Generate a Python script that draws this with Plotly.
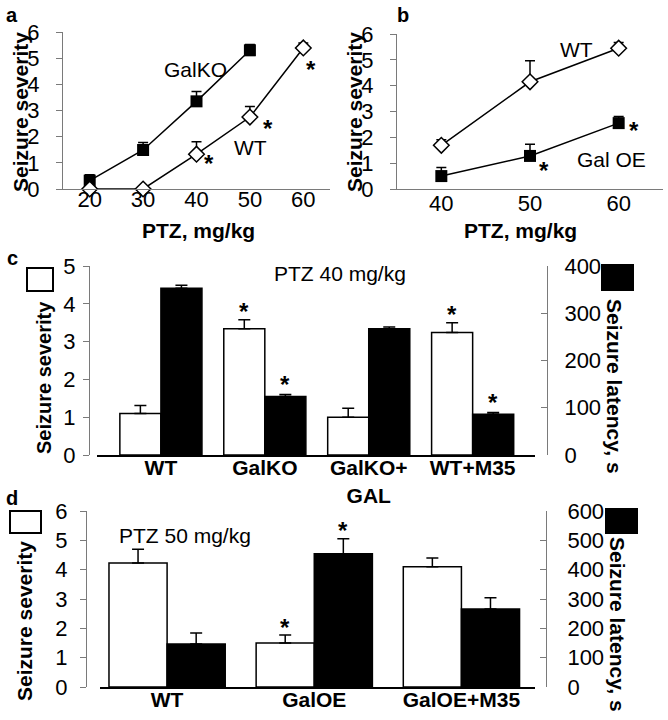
import plotly.graph_objects as go

W, H = 668, 720
FONT = "Liberation Sans"
AX = "#7a7a7a"

# ---------------- data ----------------
# Panel a
a_dose = [20, 30, 40, 50, 60]
a_galko_dose = [20, 30, 40, 50]
a_galko = [0.32, 1.49, 3.35, 5.30]
a_galko_err = [0.22, 0.29, 0.38, 0.22]
a_wt = [0.0, 0.0, 1.33, 2.75, 5.39]
a_wt_err = [0.0, 0.0, 0.48, 0.40, 0.19]
a_wt_sig = [0, 0, 1, 1, 1]

# Panel b
b_dose = [40, 50, 60]
b_wt = [1.69, 4.15, 5.45]
b_wt_err = [0.22, 0.81, 0.22]
b_galoe = [0.50, 1.28, 2.55]
b_galoe_err = [0.33, 0.45, 0.26]
b_galoe_sig = [0, 1, 1]

# Panel c (PTZ 40 mg/kg)
c_groups = ["WT", "GalKO", "GalKO+<br>GAL", "WT+M35"]
c_sev = [1.10, 3.34, 1.00, 3.24]
c_sev_err = [0.21, 0.24, 0.24, 0.26]
c_sev_sig = [0, 1, 0, 1]
c_lat = [353, 124, 267, 86]
c_lat_err = [6, 4, 4, 4]
c_lat_sig = [0, 1, 0, 1]

# Panel d (PTZ 50 mg/kg)
d_groups = ["WT", "GalOE", "GalOE+M35"]
d_sev = [4.23, 1.50, 4.10]
d_sev_err = [0.47, 0.27, 0.30]
d_sev_sig = [0, 1, 0]
d_lat = [147, 454, 266]
d_lat_err = [37, 51, 38]
d_lat_sig = [0, 1, 0]

BW = 0.395  # bar width in category units


def fx(px):
    return px / W


def fy(py):
    return 1 - py / H


def up_err(err, color="black", width=5):
    return dict(type="data", symmetric=False, array=err, arrayminus=[0] * len(err),
                color=color, thickness=1.5, width=width)


fig = go.Figure()

# ---- panel a ----
fig.add_trace(go.Scatter(x=a_galko_dose, y=a_galko, xaxis="x", yaxis="y", mode="lines+markers",
                         line=dict(color="black", width=1.5),
                         marker=dict(symbol="square", size=12, color="black"),
                         error_y=up_err(a_galko_err), cliponaxis=False, showlegend=False))
fig.add_trace(go.Scatter(x=a_dose, y=a_wt, xaxis="x", yaxis="y", mode="lines+markers",
                         line=dict(color="black", width=1.5),
                         marker=dict(symbol="diamond", size=12, color="white",
                                     line=dict(color="black", width=1.5)),
                         error_y=up_err(a_wt_err), cliponaxis=False, showlegend=False))

# ---- panel b ----
fig.add_trace(go.Scatter(x=b_dose, y=b_wt, xaxis="x2", yaxis="y2", mode="lines+markers",
                         line=dict(color="black", width=1.5),
                         marker=dict(symbol="diamond", size=12, color="white",
                                     line=dict(color="black", width=1.5)),
                         error_y=up_err(b_wt_err), cliponaxis=False, showlegend=False))
fig.add_trace(go.Scatter(x=b_dose, y=b_galoe, xaxis="x2", yaxis="y2", mode="lines+markers",
                         line=dict(color="black", width=1.5),
                         marker=dict(symbol="square", size=12, color="black"),
                         error_y=up_err(b_galoe_err), cliponaxis=False, showlegend=False))

# ---- panel c ----
c_x = list(range(len(c_groups)))
fig.add_trace(go.Bar(x=c_x, y=c_sev, xaxis="x3", yaxis="y3", offset=-BW, width=BW,
                     marker=dict(color="white", line=dict(color="black", width=1.5)),
                     error_y=up_err(c_sev_err, width=6), showlegend=False))
fig.add_trace(go.Bar(x=c_x, y=c_lat, xaxis="x3", yaxis="y4", offset=0, width=BW,
                     marker=dict(color="black", line=dict(color="black", width=1.5)),
                     error_y=up_err(c_lat_err, width=6), showlegend=False))

# ---- panel d ----
d_x = list(range(len(d_groups)))
fig.add_trace(go.Bar(x=d_x, y=d_sev, xaxis="x4", yaxis="y5", offset=-BW, width=BW,
                     marker=dict(color="white", line=dict(color="black", width=1.5)),
                     error_y=up_err(d_sev_err, width=6), showlegend=False))
fig.add_trace(go.Bar(x=d_x, y=d_lat, xaxis="x4", yaxis="y6", offset=0, width=BW,
                     marker=dict(color="black", line=dict(color="black", width=1.5)),
                     error_y=up_err(d_lat_err, width=6), showlegend=False))

tickf = dict(family=FONT, size=22, color="black")
catf = dict(family=FONT, size=21, color="black", weight="bold")

base_y = dict(showline=True, linecolor=AX, linewidth=1, ticks="outside", tickcolor=AX,
              ticklen=6, tickfont=tickf, showgrid=False, zeroline=False, automargin=False)
base_x = dict(showline=True, linecolor=AX, linewidth=1, ticks="", ticklen=0, tickfont=tickf,
              showgrid=False, zeroline=False, automargin=False)

fig.update_layout(
    template="none",
    width=W, height=H, margin=dict(l=0, r=0, t=0, b=0, autoexpand=False),
    paper_bgcolor="white", plot_bgcolor="rgba(0,0,0,0)",
    barmode="overlay", showlegend=False,
    xaxis=dict(base_x, domain=[fx(63), fx(330)], range=[15, 65], tickvals=a_dose,
               anchor="y", ticklabelstandoff=-9),
    yaxis=dict(base_y, domain=[fy(189), fy(32)], range=[0, 6], dtick=1, anchor="x",
               ticklabelstandoff=12),
    xaxis2=dict(base_x, domain=[fx(397), fx(663)], range=[35, 65], tickvals=b_dose,
                anchor="y2", ticklabelstandoff=-5),
    yaxis2=dict(base_y, domain=[fy(189), fy(34)], range=[0, 6], dtick=1, anchor="x2",
                ticklabelstandoff=12),
    xaxis3=dict(base_x, domain=[fx(97), fx(535)], range=[-0.615, 3.6], tickvals=c_x,
                ticktext=c_groups, tickfont=catf, linecolor="black", linewidth=2,
                anchor="y3", ticklabelstandoff=-7),
    yaxis3=dict(base_y, domain=[fy(455), fy(266)], range=[0, 5], dtick=1,
                anchor="free", position=fx(89), ticklabelstandoff=3),
    yaxis4=dict(base_y, overlaying="y3", side="right", range=[0, 400], dtick=100,
                anchor="free", position=fx(547), ticks="inside", ticklabelstandoff=12),
    xaxis4=dict(base_x, domain=[fx(100), fx(535)], range=[-0.456, 2.5], tickvals=d_x,
                ticktext=d_groups, tickfont=catf, linecolor="black", linewidth=2,
                anchor="y5", ticklabelstandoff=-7),
    yaxis5=dict(base_y, domain=[fy(687), fy(511)], range=[0, 6], dtick=1,
                anchor="free", position=fx(86), ticklabelstandoff=8),
    yaxis6=dict(base_y, overlaying="y5", side="right", range=[0, 600], dtick=100,
                anchor="free", position=fx(546), ticks="inside", ticklabelstandoff=16),
)

ann = []


def txt(text, px, py, size=21, bold=False, angle=0):
    ann.append(dict(text=text, x=fx(px), y=fy(py), xref="paper", yref="paper",
                    showarrow=False, xanchor="center", yanchor="middle", textangle=angle,
                    font=dict(family=FONT, size=size, color="black",
                              weight="bold" if bold else "normal")))


# panel letters
txt("a", 12, 15, 20, True)
txt("b", 403, 15, 20, True)
txt("c", 12, 258, 20, True)
txt("d", 12, 498, 20, True)

# axis titles
txt("Seizure severity", 20, 112, 21, True, -90)
txt("Seizure severity", 354, 112, 21, True, -90)
txt("PTZ, mg/kg", 198, 231, 21, True)
txt("PTZ, mg/kg", 520, 231, 21, True)
txt("Seizure severity", 44, 378, 20, True, -90)
txt("Seizure latency, s", 615, 386, 21, True, 90)
txt("Seizure severity", 24, 621, 21, True, -90)
txt("Seizure latency, s", 618, 624, 21, True, 90)

# in-plot labels
txt("GalKO", 195, 69)
txt("WT", 250, 148)
txt("WT", 576, 50)
txt("Gal OE", 611, 159)
txt("PTZ 40 mg/kg", 340, 273)
txt("PTZ 50 mg/kg", 185, 535)


def star(xref, yref, x, y, xs, ys):
    ann.append(dict(text="*", x=x, y=y, xref=xref, yref=yref, showarrow=False,
                    xanchor="center", yanchor="middle", xshift=xs, yshift=ys,
                    font=dict(family=FONT, size=24, color="black", weight="bold")))


a_star_shift = {40: (12, -9), 50: (18, -11), 60: (8, -22)}
for d, v, s in zip(a_dose, a_wt, a_wt_sig):
    if s:
        star("x", "y", d, v, *a_star_shift[d])
b_star_shift = {50: (14, -15), 60: (15, -7)}
for d, v, s in zip(b_dose, b_galoe, b_galoe_sig):
    if s:
        star("x2", "y2", d, v, *b_star_shift[d])

for i, (v, e, s) in enumerate(zip(c_sev, c_sev_err, c_sev_sig)):
    if s:
        star("x3", "y3", i - BW / 2, v + e, 0, 8)
for i, (v, e, s) in enumerate(zip(c_lat, c_lat_err, c_lat_sig)):
    if s:
        star("x3", "y4", i + BW / 2, v + e, 0, 10)
for i, (v, e, s) in enumerate(zip(d_sev, d_sev_err, d_sev_sig)):
    if s:
        star("x4", "y5", i - BW / 2, v + e, 0, 8)
for i, (v, e, s) in enumerate(zip(d_lat, d_lat_err, d_lat_sig)):
    if s:
        star("x4", "y6", i + BW / 2, v + e, 0, 8)

fig.update_layout(annotations=ann)

# legend boxes for the two y axes
shapes = []


def box(x0, y0, x1, y1, fill):
    shapes.append(dict(type="rect", xref="paper", yref="paper", x0=fx(x0), x1=fx(x1),
                       y0=fy(y1), y1=fy(y0), fillcolor=fill,
                       line=dict(color="black", width=2)))


box(27, 268, 53, 291, "white")
box(602, 265, 633, 290, "black")
box(10, 511, 41, 533, "white")
box(606, 509, 637, 533, "black")
fig.update_layout(shapes=shapes)

fig.write_html("out.html", config={"displayModeBar": False},
               post_script="document.body.style.margin='0px';document.body.style.overflow='hidden';")
